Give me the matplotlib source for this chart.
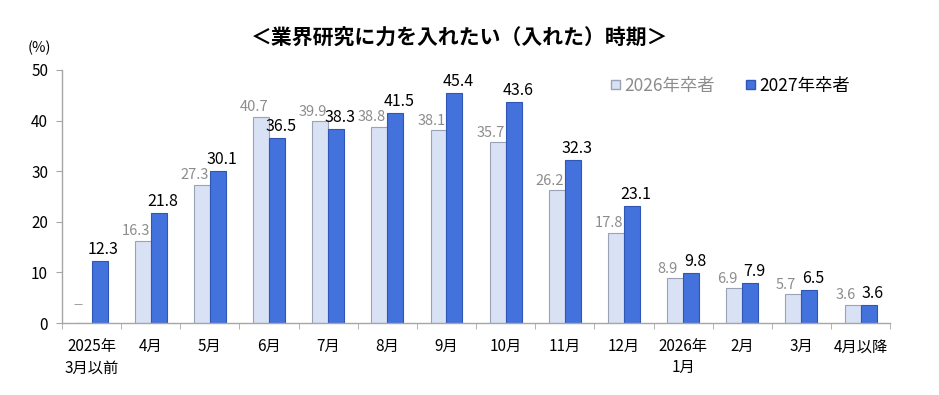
import numpy as np
import matplotlib.pyplot as plt
from matplotlib.patches import Patch

plt.rcParams['font.family'] = ['Noto Sans CJK JP', 'DejaVu Sans']

categories = ['2025年\n3月以前', '4月', '5月', '6月', '7月', '8月', '9月', '10月',
              '11月', '12月', '2026年\n1月', '2月', '3月', '4月以降']
grad_2026 = [np.nan, 16.3, 27.3, 40.7, 39.9, 38.8, 38.1, 35.7, 26.2, 17.8, 8.9, 6.9, 5.7, 3.6]
grad_2027 = [12.3, 21.8, 30.1, 36.5, 38.3, 41.5, 45.4, 43.6, 32.3, 23.1, 9.8, 7.9, 6.5, 3.6]
yticks = [0, 10, 20, 30, 40, 50]

light = '#D9E1F5'
blue = '#4472DD'
axis_gray = '#A6A6A6'
label_gray = '#8C8C8C'

fig = plt.figure(figsize=(9.39, 3.95), dpi=100)
ax = fig.add_axes([0.066, 0.182, 0.882, 0.641])

x = np.arange(len(categories))
w = 0.27
ax.bar(x - w / 2, np.nan_to_num(grad_2026), w, color=light, edgecolor='#9AA3B5', linewidth=0.8)
ax.bar(x + w / 2, grad_2027, w, color=blue, edgecolor='#2F55B5', linewidth=0.8)

# labels sit a little to the left / right so the pairs don't collide
for xi, v in zip(x, grad_2026):
    if np.isnan(v):
        ax.text(xi - w * 0.85, 2.3, '－', ha='center', va='bottom', fontsize=8, color=label_gray)
    else:
        ax.text(xi - w * 0.95, v + 0.5, f'{v:.1f}', ha='center', va='bottom', fontsize=10.5, color=label_gray)
for xi, v in zip(x, grad_2027):
    ax.text(xi + w * 0.75, v + 0.6, f'{v:.1f}', ha='center', va='bottom', fontsize=11.5, color='black')

ax.set_xlim(-0.5, len(categories) - 0.5)
ax.set_ylim(0, 50)
ax.set_yticks(yticks)
ax.set_xticks(x)
ax.set_xticklabels(categories, fontsize=11, linespacing=1.3)
ax.set_xticks(np.arange(len(categories) + 1) - 0.5, minor=True)
ax.tick_params(axis='x', which='major', length=0, pad=11)
ax.tick_params(axis='x', which='minor', length=4, color=axis_gray, direction='out')
ax.tick_params(axis='y', length=4, color=axis_gray, labelsize=11, pad=6)

for s in ['top', 'right']:
    ax.spines[s].set_visible(False)
for s in ['left', 'bottom']:
    ax.spines[s].set_color(axis_gray)
    ax.spines[s].set_linewidth(1.0)

fig.text(0.042, 0.878, '(%)', fontsize=10.5, ha='center', va='center')
fig.text(0.489, 0.905, '＜業界研究に力を入れたい（入れた）時期＞', fontsize=15,
         fontweight='bold', ha='center', va='center')

handles = [Patch(facecolor=light, edgecolor='#9AA3B5'), Patch(facecolor=blue, edgecolor='#2F55B5')]
leg = ax.legend(handles, ['2026年卒者', '2027年卒者'], loc='upper right',
                bbox_to_anchor=(0.97, 1.035), ncol=2, frameon=False, fontsize=12.5,
                handlelength=0.5, handleheight=0.5, handletextpad=0.25, columnspacing=1.8)
leg.get_texts()[0].set_color(label_gray)

fig.savefig('out.png', dpi=100)
